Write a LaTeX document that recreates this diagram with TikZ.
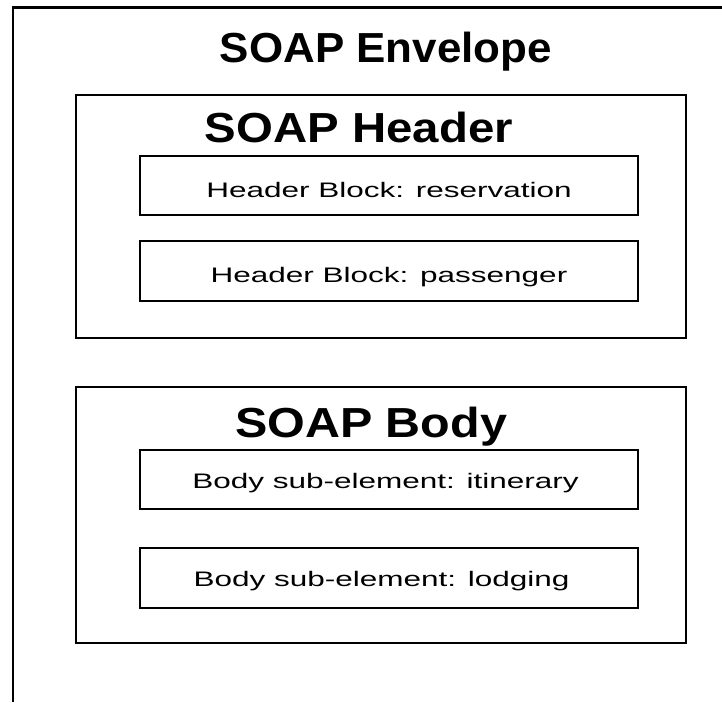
\documentclass[tikz,border=0pt]{standalone}
\usepackage{fontspec}
\setmainfont{Liberation Sans}
\begin{document}
\begin{tikzpicture}[x=1pt,y=-1pt,
  frame/.style={draw=black,line width=2.2pt},
  blockbox/.style={draw=black,line width=1.8pt},
  title/.style={anchor=base,inner sep=0pt,font=\fontsize{42}{48}\selectfont\bfseries},
  label/.style={anchor=base,inner sep=0pt,font=\fontsize{21}{25}\selectfont}]
\useasboundingbox (0,0) rectangle (722,702);
% outer envelope (cropped at right and bottom)
\draw[frame] (13,702) -- (13,7.5) -- (722,7.5);
\node[title] (env) at (386,62) {\scalebox{1.046}[1]{SOAP Envelope}};
% header
\draw[blockbox] (76,95) rectangle (686,338);
\node[title] (hdr) at (359,142) {\scalebox{1.128}[1]{SOAP Header}};
\draw[blockbox] (140,156) rectangle (638,215);
\node[label] (hb1) at (389,197) {\scalebox{1.5}[1]{Header Block: reservation}};
\draw[blockbox] (140,241) rectangle (638,301);
\node[label] (hb2) at (389,282) {\scalebox{1.5}[1]{Header Block: passenger}};
% body
\draw[blockbox] (76,387) rectangle (686,643);
\node[title] (bdy) at (371,437) {\scalebox{1.154}[1]{SOAP Body}};
\draw[blockbox] (140,450) rectangle (638,509);
\node[label] (bs1) at (385.5,488) {\scalebox{1.5}[1]{Body sub-element: itinerary}};
\draw[blockbox] (140,548) rectangle (638,608);
\node[label] (bs2) at (381.5,586) {\scalebox{1.5}[1]{Body sub-element: lodging}};
\end{tikzpicture}
\end{document}
